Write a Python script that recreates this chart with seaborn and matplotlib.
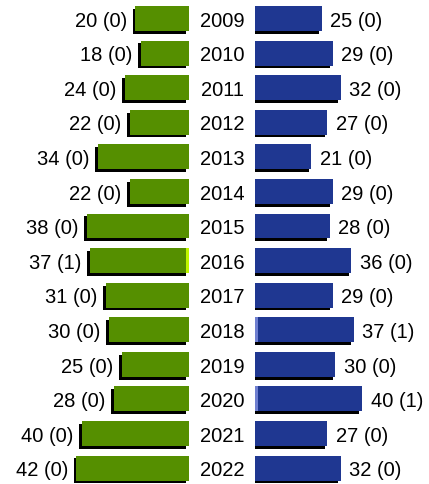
import seaborn as sns
import pandas as pd
import matplotlib.pyplot as plt
import matplotlib.patheffects as pe

years = ['2009', '2010', '2011', '2012', '2013', '2014', '2015',
         '2016', '2017', '2018', '2019', '2020', '2021', '2022']
left_total = [20, 18, 24, 22, 34, 22, 38, 37, 31, 30, 25, 28, 40, 42]
left_sub = [0, 0, 0, 0, 0, 0, 0, 1, 0, 0, 0, 0, 0, 0]
right_total = [25, 29, 32, 27, 21, 29, 28, 36, 29, 37, 30, 40, 27, 32]
right_sub = [0, 0, 0, 0, 0, 0, 0, 0, 0, 1, 0, 1, 0, 0]

df = pd.DataFrame({'year': years, 'left_total': left_total, 'left_sub': left_sub,
                   'right_total': right_total, 'right_sub': right_sub})

green = '#558f00'
green_light = '#bff500'
blue = '#1f3791'
blue_light = '#6f7fd0'

plt.rcParams['font.family'] = ['Liberation Sans', 'DejaVu Sans']
fs = 14.5

fig = plt.figure(figsize=(4.29, 4.85), dpi=100)
ax_l = fig.add_axes([0, 0, 189 / 429, 1])
ax_r = fig.add_axes([255 / 429, 0, 174 / 429, 1])

shadow = [pe.SimplePatchShadow(offset=(-2, -2), shadow_rgbFace='black', alpha=1), pe.Normal()]

for ax, tot, sub, col, col_light in [(ax_l, 'left_total', 'left_sub', green, green_light),
                                     (ax_r, 'right_total', 'right_sub', blue, blue_light)]:
    sns.barplot(data=df, x=tot, y='year', orient='h', color=col, saturation=1,
                width=0.72, ax=ax)
    for p in ax.patches:
        p.set_path_effects(shadow)
    sns.barplot(data=df, x=sub, y='year', orient='h', color=col_light, saturation=1,
                width=0.72, ax=ax)
    ax.set_ylim(13.46, -0.564)
    ax.axis('off')

ax_l.set_xlim(189 / 2.68, 0)
ax_r.set_xlim(0, 174 / 2.68)

for i in range(len(years)):
    ax_l.annotate(f'{left_total[i]} ({left_sub[i]})', (left_total[i], i), xytext=(-6, -1.2),
                  textcoords='offset points', ha='right', va='center', fontsize=fs)
    ax_r.annotate(f'{right_total[i]} ({right_sub[i]})', (right_total[i], i), xytext=(6, -1.2),
                  textcoords='offset points', ha='left', va='center', fontsize=fs)
    # year label centred in the gap between the two bar groups
    ax_l.annotate(years[i], (0, i), xytext=(24, -1.2), textcoords='offset points',
                  ha='center', va='center', fontsize=fs, annotation_clip=False)

fig.savefig('out.png', dpi=100)
